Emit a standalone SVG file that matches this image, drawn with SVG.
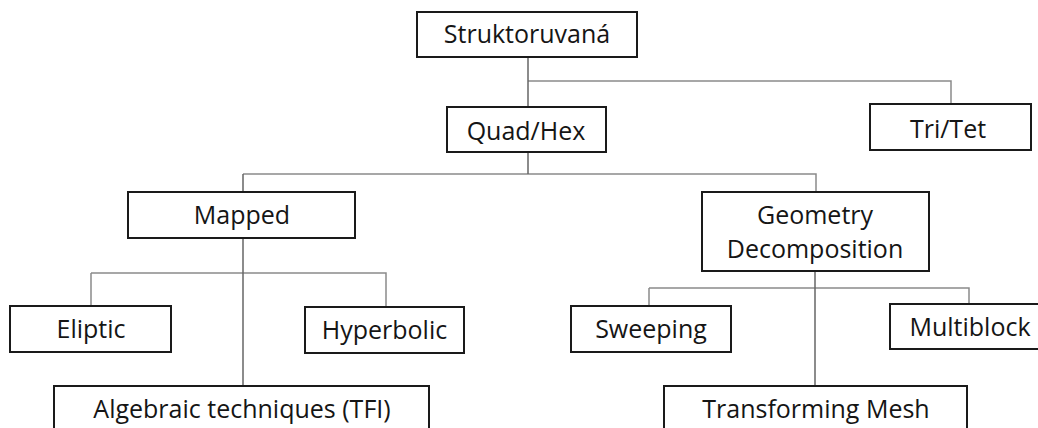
<svg xmlns="http://www.w3.org/2000/svg" width="1038" height="428" viewBox="0 0 1038 428">
<style>
.box{fill:#fff;stroke:#1a1a1a;stroke-width:2}
.t{font-family:"Open Sans","Liberation Sans",sans-serif;font-size:25px;fill:#151515;text-anchor:middle}
.c{fill:none;stroke:#8a8a8a;stroke-width:1.5}
.cd{fill:none;stroke:#666;stroke-width:1.5}
</style>
<rect width="1038" height="428" fill="#fff"/>
<g id="connectors">
<path class="c" d="M528,81 H951 V104"/>
<path class="cd" d="M528,57 V107"/>
<path class="c" d="M243,174 H816 V192"/>
<path class="cd" d="M528,152 V174 M243,174 V192"/>
<path class="c" d="M91,273 H386 V307 M91,273 V306"/>
<path class="cd" d="M243,238 V386"/>
<path class="c" d="M649,288 H969 V304 M649,288 V306"/>
<path class="cd" d="M815,271 V386"/>
</g>
<g id="n-struktoruvana"><rect class="box" x="417" y="12" width="220" height="45"/><text class="t" x="527" y="43">Struktoruvaná</text></g>
<g id="n-quadhex"><rect class="box" x="447" y="107" width="159" height="45"/><text class="t" x="526" y="140">Quad/Hex</text></g>
<g id="n-tritet"><rect class="box" x="870" y="104" width="161" height="46"/><text class="t" x="948" y="138">Tri/Tet</text></g>
<g id="n-mapped"><rect class="box" x="128" y="192" width="227" height="46"/><text class="t" x="242" y="224">Mapped</text></g>
<g id="n-geometry"><rect class="box" x="702" y="192" width="227" height="79"/><text class="t" x="815" y="224">Geometry</text><text class="t" x="815" y="258">Decomposition</text></g>
<g id="n-eliptic"><rect class="box" x="10" y="306" width="161" height="46"/><text class="t" x="91" y="338">Eliptic</text></g>
<g id="n-hyperbolic"><rect class="box" x="305" y="307" width="159" height="46"/><text class="t" x="384.5" y="339">Hyperbolic</text></g>
<g id="n-sweeping"><rect class="box" x="571" y="306" width="160" height="46"/><text class="t" x="651" y="338">Sweeping</text></g>
<g id="n-multiblock"><rect class="box" x="890" y="304" width="160" height="45"/><text class="t" x="970" y="336">Multiblock</text></g>
<g id="n-algebraic"><rect class="box" x="54" y="386" width="375" height="60"/><text class="t" x="242" y="418">Algebraic techniques (TFI)</text></g>
<g id="n-transforming"><rect class="box" x="664" y="386" width="303" height="60"/><text class="t" x="816" y="418">Transforming Mesh</text></g>
</svg>
